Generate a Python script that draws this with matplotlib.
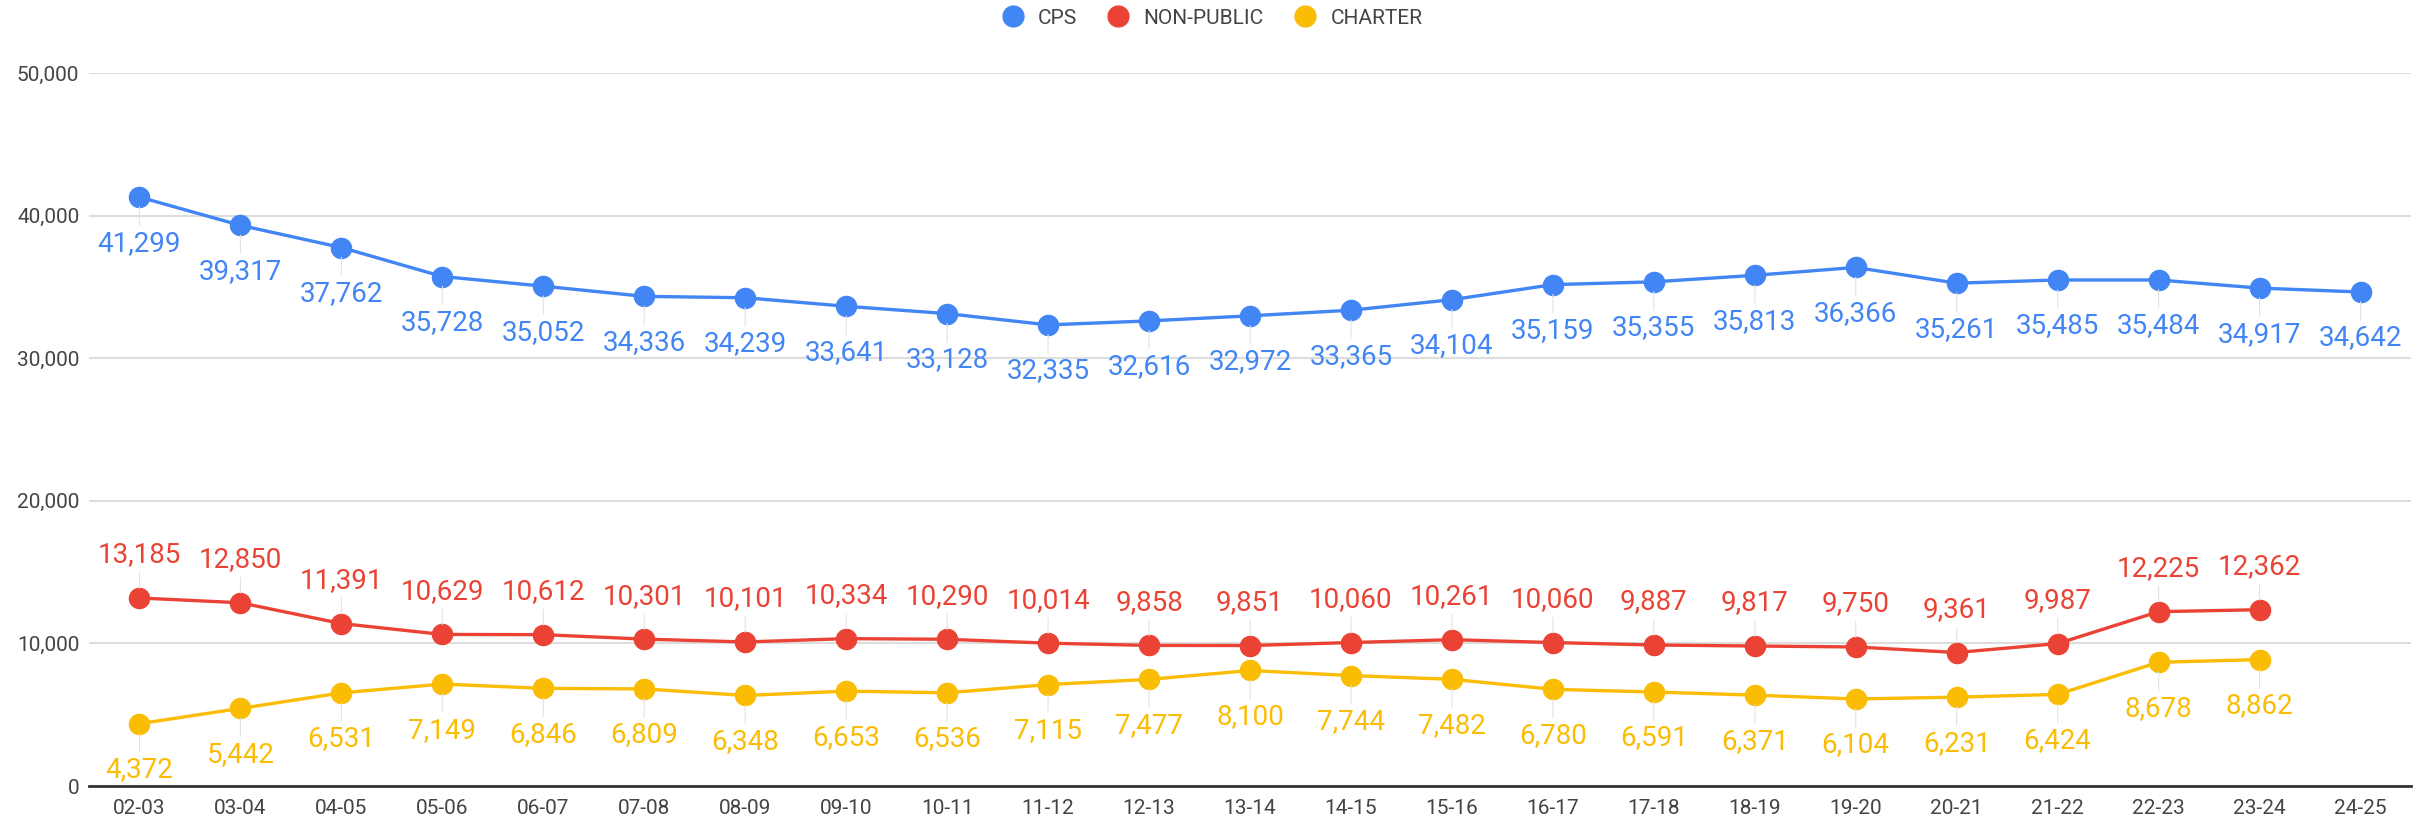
import numpy as np
import matplotlib
matplotlib.use("Agg")
import matplotlib.pyplot as plt
from matplotlib.lines import Line2D

years = ["02-03", "03-04", "04-05", "05-06", "06-07", "07-08", "08-09", "09-10", "10-11",
         "11-12", "12-13", "13-14", "14-15", "15-16", "16-17", "17-18", "18-19", "19-20",
         "20-21", "21-22", "22-23", "23-24", "24-25"]
cps = [41299, 39317, 37762, 35728, 35052, 34336, 34239, 33641, 33128, 32335, 32616, 32972,
       33365, 34104, 35159, 35355, 35813, 36366, 35261, 35485, 35484, 34917, 34642]
non_public = [13185, 12850, 11391, 10629, 10612, 10301, 10101, 10334, 10290, 10014, 9858, 9851,
              10060, 10261, 10060, 9887, 9817, 9750, 9361, 9987, 12225, 12362, np.nan]
charter = [4372, 5442, 6531, 7149, 6846, 6809, 6348, 6653, 6536, 7115, 7477, 8100,
           7744, 7482, 6780, 6591, 6371, 6104, 6231, 6424, 8678, 8862, np.nan]
yticks = [0, 10000, 20000, 30000, 40000, 50000]

plt.rcParams['font.family'] = ['Roboto', 'DejaVu Sans']

W, H = 2435, 822
fig = plt.figure(figsize=(W / 100, H / 100), dpi=100)
ax = fig.add_axes([89 / W, 1 - 786 / H, (2411 - 89) / W, (786 - 73) / H])

x = np.arange(len(years))
series = [
    ("CPS", cps, "#4285F4", -46),
    ("NON-PUBLIC", non_public, "#EA4335", 43),
    ("CHARTER", charter, "#FBBC04", -46),
]

for name, vals, col, off in series:
    ax.plot(x, vals, color=col, lw=2.4, marker="o", markersize=14.5, zorder=3,
            solid_capstyle="round")
    for xi, v in zip(x, vals):
        if np.isnan(v):
            continue
        ax.annotate(f"{int(v):,}", xy=(xi, v), xytext=(0, off), textcoords="offset pixels",
                    ha="center", va="center", fontsize=20, color=col, zorder=4,
                    arrowprops=dict(arrowstyle="-", color="#e3e3e3", lw=0.8,
                                    shrinkA=1, shrinkB=7))

ax.set_xlim(-0.5, 22.5)
ax.set_ylim(0, 50000)
ax.set_yticks(yticks)
ax.set_yticklabels([f"{t:,}" for t in yticks])
ax.set_xticks(x)
ax.set_xticklabels(years)
ax.tick_params(axis="both", length=0, labelsize=15, colors="#444444")
ax.tick_params(axis="y", pad=7)
ax.tick_params(axis="x", pad=9)
for s in ["top", "right", "left"]:
    ax.spines[s].set_visible(False)
ax.spines["bottom"].set_color("#333333")
ax.spines["bottom"].set_linewidth(2)
ax.spines["bottom"].set_zorder(2)
ax.grid(axis="y", color="#dddddd", lw=1.5, zorder=0)
ax.set_axisbelow(True)

handles = [Line2D([], [], lw=0, marker="o", markersize=15, color=c) for _, _, c, _ in series]
fig.legend(handles, [n for n, _, _, _ in series], loc="center", ncol=3,
           bbox_to_anchor=(1207 / W, 1 - 18 / H), frameon=False, fontsize=15,
           handletextpad=0.2, columnspacing=1.0, labelcolor="#444444")

fig.savefig("out.png", dpi=100, facecolor="white")
